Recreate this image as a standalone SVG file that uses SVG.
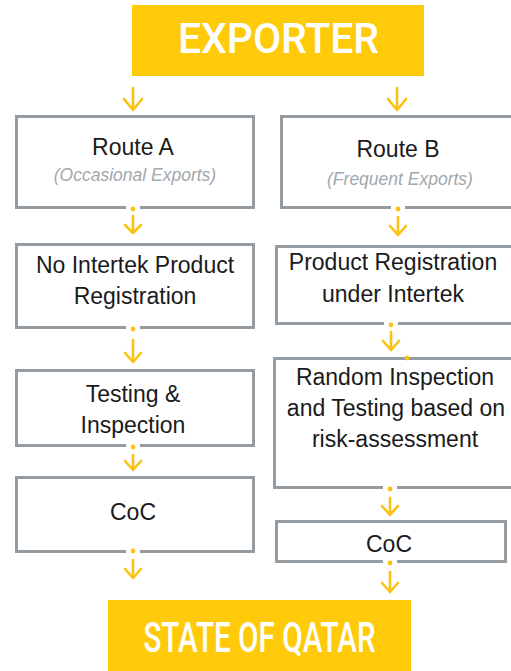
<svg xmlns="http://www.w3.org/2000/svg" width="511" height="671" viewBox="0 0 511 671">
<style>
.hdr{fill:#FFCA0A}
.hdrt{fill:#fff;font-family:Roboto,"Liberation Sans",sans-serif;font-weight:500;font-size:43px;text-anchor:middle}
.box{fill:#fff;stroke:#959CA1;stroke-width:3}
.t{font-family:"Liberation Sans",Arial,sans-serif;font-size:23px;fill:#1a1a1a;text-anchor:middle}
.s{font-family:"Liberation Sans",Arial,sans-serif;font-size:17.5px;font-style:italic;fill:#A2A8AD;text-anchor:middle}
.gap{stroke:#fff;stroke-width:5}
.dot{fill:#FBC213}
.arr{fill:none;stroke:#FBC213;stroke-width:2.6;stroke-linecap:round;stroke-linejoin:round}
</style>
<rect width="511" height="671" fill="#fff"/>
<g id="exporter">
<rect class="hdr" x="132" y="5" width="292" height="71"/>
<text class="hdrt" transform="translate(278.5,53) scale(0.95,1)">EXPORTER</text>
</g>
<g id="routeA">
<rect class="box" x="16.5" y="116.5" width="237" height="91"/>
<text class="t" x="133" y="155">Route A</text>
<text class="s" x="135" y="181">(Occasional Exports)</text>
</g>
<g id="noReg">
<rect class="box" x="16.5" y="244.5" width="237" height="83"/>
<text class="t" x="135" y="273">No Intertek Product</text>
<text class="t" x="135" y="304">Registration</text>
</g>
<g id="testing">
<rect class="box" x="16.5" y="370.5" width="237" height="75"/>
<text class="t" x="133" y="402">Testing &amp;</text>
<text class="t" x="133" y="433">Inspection</text>
</g>
<g id="cocA">
<rect class="box" x="16.5" y="477.5" width="237" height="74"/>
<text class="t" x="133" y="520">CoC</text>
</g>
<g id="routeB">
<rect class="box" x="281.5" y="116.5" width="240" height="91"/>
<text class="t" x="398" y="157">Route B</text>
<text class="s" x="400" y="185">(Frequent Exports)</text>
</g>
<g id="prodReg">
<rect class="box" x="276.5" y="246.5" width="245" height="77"/>
<text class="t" x="393" y="270">Product Registration</text>
<text class="t" x="393" y="302">under Intertek</text>
</g>
<g id="random">
<rect class="box" x="274.5" y="358.5" width="247" height="129"/>
<text class="t" x="395" y="385">Random Inspection</text>
<text class="t" x="396" y="416">and Testing based on</text>
<text class="t" x="395" y="447">risk-assessment</text>
</g>
<g id="cocB">
<rect class="box" x="276.5" y="521.5" width="229" height="40"/>
<text class="t" x="389" y="552">CoC</text>
</g>
<g id="qatar">
<rect class="hdr" x="108" y="600" width="303" height="71"/>
<text class="hdrt" transform="translate(259.5,652) scale(0.69,1)">STATE OF QATAR</text>
</g>
<g id="connectors">
<line class="gap" x1="126" y1="208.5" x2="140" y2="208.5"/>
<line class="gap" x1="126" y1="328.5" x2="140" y2="328.5"/>
<line class="gap" x1="126" y1="446.5" x2="140" y2="446.5"/>
<line class="gap" x1="126" y1="552" x2="140" y2="552"/>
<line class="gap" x1="391" y1="208.5" x2="405" y2="208.5"/>
<line class="gap" x1="384" y1="324.5" x2="398" y2="324.5"/>
<line class="gap" x1="383" y1="488.5" x2="397" y2="488.5"/>
<line class="gap" x1="383" y1="562.5" x2="397" y2="562.5"/>
<circle class="dot" cx="133" cy="209" r="2.4"/>
<circle class="dot" cx="133" cy="329" r="2.4"/>
<circle class="dot" cx="133" cy="447" r="2.4"/>
<circle class="dot" cx="133" cy="551" r="2.4"/>
<circle class="dot" cx="398" cy="209" r="2.4"/>
<circle class="dot" cx="391" cy="325" r="2.4"/>
<circle class="dot" cx="407" cy="358" r="2.4"/>
<circle class="dot" cx="390" cy="489" r="2.4"/>
<circle class="dot" cx="390" cy="563" r="2.4"/>
<path class="arr" d="M133 88V110M124 99L133 110L142 99"/>
<path class="arr" d="M397 88V110M388 99L397 110L406 99"/>
<path class="arr" d="M133 216V233M125 225L133 233L141 225"/>
<path class="arr" d="M133 340V362M125 353L133 362L141 353"/>
<path class="arr" d="M133 455V470M125 461L133 470L141 461"/>
<path class="arr" d="M133 560V578M125 569L133 578L141 569"/>
<path class="arr" d="M398 217V235M390 226L398 235L406 226"/>
<path class="arr" d="M391 332V350M383 341L391 350L399 341"/>
<path class="arr" d="M390 498V515M382 506L390 515L398 506"/>
<path class="arr" d="M390 572V592M382 583L390 592L398 583"/>
</g>
</svg>
